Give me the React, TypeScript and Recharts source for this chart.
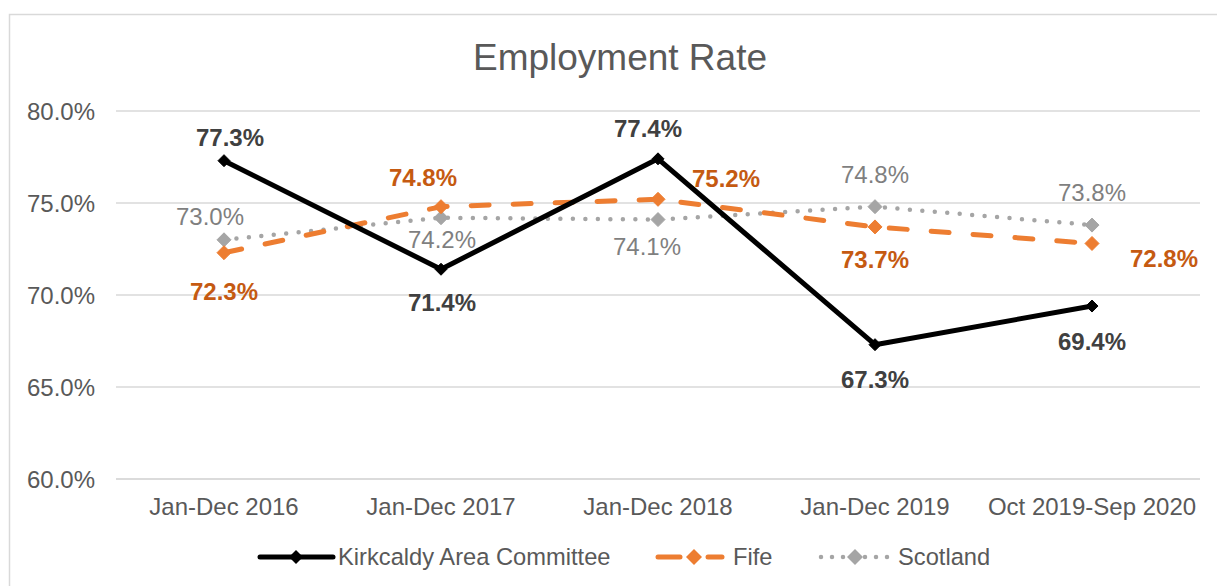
import { CartesianGrid, LabelList, Line, LineChart, XAxis, YAxis } from 'recharts';

const periods = ['Jan-Dec 2016', 'Jan-Dec 2017', 'Jan-Dec 2018', 'Jan-Dec 2019', 'Oct 2019-Sep 2020'];
const kirkcaldy = [77.3, 71.4, 77.4, 67.3, 69.4];
const fife = [72.3, 74.8, 75.2, 73.7, 72.8];
const scotland = [73.0, 74.2, 74.1, 74.8, 73.8];
const yTicks = [60, 65, 70, 75, 80];

// label placement relative to each point [dx, dy]
const kirkOffsets = [[6, -23], [1, 33], [-10, -30], [0, 35], [0, 36]];
const fifeOffsets = [[0, 39], [-18, -29], [68, -21], [0, 33], [72, 15]];
const scotOffsets = [[-14, -23], [1, 22], [-11, 27], [0, -32], [0, -32]];

const FONT = '"Liberation Sans", Arial, sans-serif';
const W = 1217;
const H = 586;

const data = periods.map((period, i) => ({
  period,
  kirkcaldy: kirkcaldy[i],
  fife: fife[i],
  scotland: scotland[i],
}));

function diamond(color: string, half: number) {
  return (props: any) => {
    const { cx, cy, index } = props;
    if (cx == null || cy == null) return <g key={index} />;
    return (
      <polygon
        key={index}
        points={`${cx},${cy - half} ${cx + half},${cy} ${cx},${cy + half} ${cx - half},${cy}`}
        fill={color}
        stroke={color}
        strokeWidth={1}
      />
    );
  };
}

function pctLabel(offsets: number[][], color: string, bold: boolean) {
  return (props: any) => {
    const x = props.x ?? props.viewBox?.x;
    const y = props.y ?? props.viewBox?.y;
    const idx = props.index ?? 0;
    const [dx, dy] = offsets[idx] || [0, 0];
    return (
      <text
        key={idx}
        x={x + dx}
        y={y + dy}
        dy="0.35em"
        textAnchor="middle"
        fill={color}
        fontSize={24}
        fontWeight={bold ? 'bold' : 'normal'}
        fontFamily={FONT}
      >
        {Number(props.value).toFixed(1)}%
      </text>
    );
  };
}

function Legend() {
  return (
    <g fontFamily={FONT} fontSize={23.7} fill="#595959">
      <line x1={260} y1={557} x2={333} y2={557} stroke="#000" strokeWidth={5} strokeLinecap="round" />
      <polygon points="296,550 303,557 296,564 289,557" fill="#000" />
      <text x={338} y={565}>Kirkcaldy Area Committee</text>

      <line x1={658} y1={557} x2={680} y2={557} stroke="#ED7D31" strokeWidth={5} strokeLinecap="round" />
      <line x1={708} y1={557} x2={722} y2={557} stroke="#ED7D31" strokeWidth={5} strokeLinecap="round" />
      <polygon points="694,549 702,557 694,565 686,557" fill="#ED7D31" />
      <text x={733} y={565}>Fife</text>

      <line x1={821} y1={557} x2={888} y2={557} stroke="#A5A5A5" strokeWidth={4.5} strokeLinecap="round" strokeDasharray="0 11" />
      <polygon points="855,549 863,557 855,565 847,557" fill="#A5A5A5" />
      <text x={898} y={565}>Scotland</text>
    </g>
  );
}

export default function App() {
  return (
    <div style={{ position: 'absolute', left: 0, top: 0, width: W, height: H, background: '#fff', overflow: 'hidden' }}>
      <svg width={W} height={H} style={{ position: 'absolute', left: 0, top: 0 }}>
        <rect x={9.5} y={14.5} width={1400} height={800} fill="none" stroke="#d9d9d9" strokeWidth={1.5} />
        <text x={620} y={70} textAnchor="middle" fontFamily={FONT} fontSize={37} fill="#595959">
          Employment Rate
        </text>
        <Legend />
      </svg>
      <div style={{ position: 'absolute', left: 0, top: 0 }}>
        <LineChart width={W} height={H} data={data} margin={{ top: 111, right: 17, bottom: 77, left: 0 }}>
          <CartesianGrid vertical={false} stroke="#d9d9d9" strokeWidth={1.3} />
          <XAxis
            dataKey="period"
            height={30}
            padding={{ left: 108, right: 108 }}
            axisLine={{ stroke: '#d9d9d9', strokeWidth: 1.3 }}
            tickLine={false}
            tickSize={0}
            tickMargin={19}
            interval={0}
            tick={{ fill: '#595959', fontSize: 24, fontFamily: FONT }}
          />
          <YAxis
            width={116}
            domain={[60, 80]}
            ticks={yTicks}
            axisLine={false}
            tickLine={false}
            tickSize={0}
            tickMargin={21}
            tickFormatter={(v) => `${Number(v).toFixed(1)}%`}
            tick={{ fill: '#595959', fontSize: 24, fontFamily: FONT }}
          />
          <Line
            dataKey="scotland"
            stroke="#A5A5A5"
            strokeWidth={4.5}
            strokeLinecap="round"
            strokeDasharray="0 12.5"
            dot={diamond('#A5A5A5', 7)}
            activeDot={false}
            isAnimationActive={false}
          >
            <LabelList dataKey="scotland" content={pctLabel(scotOffsets, '#7F7F7F', false)} />
          </Line>
          <Line
            dataKey="fife"
            stroke="#ED7D31"
            strokeWidth={5}
            strokeLinecap="round"
            strokeDasharray="18 24"
            dot={diamond('#ED7D31', 7)}
            activeDot={false}
            isAnimationActive={false}
          >
            <LabelList dataKey="fife" content={pctLabel(fifeOffsets, '#C55A11', true)} />
          </Line>
          <Line
            dataKey="kirkcaldy"
            stroke="#000000"
            strokeWidth={5}
            strokeLinejoin="round"
            dot={diamond('#000000', 6)}
            activeDot={false}
            isAnimationActive={false}
          >
            <LabelList dataKey="kirkcaldy" content={pctLabel(kirkOffsets, '#404040', true)} />
          </Line>
        </LineChart>
      </div>
    </div>
  );
}
